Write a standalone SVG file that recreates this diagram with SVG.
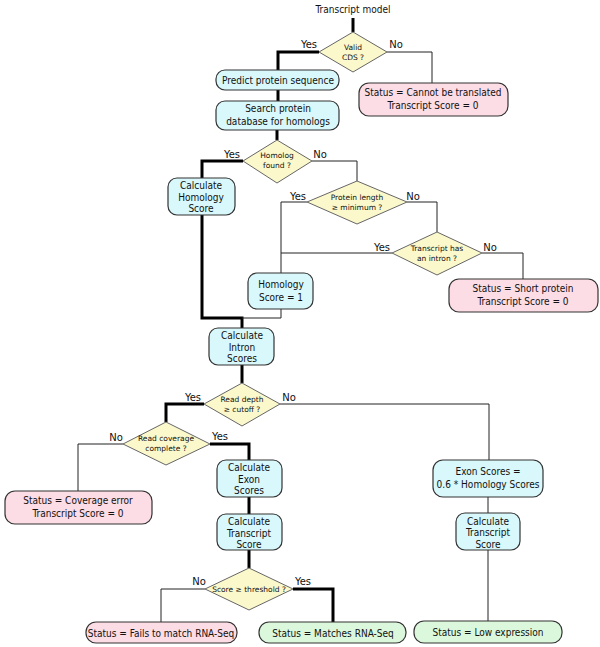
<svg xmlns="http://www.w3.org/2000/svg" width="600" height="647" viewBox="0 0 600 647">
<style>
text{font-family:"DejaVu Sans",Verdana,sans-serif;fill:#111;text-anchor:middle}
.bx{font-family:"DejaVu Sans Condensed","DejaVu Sans",sans-serif;font-size:10px}
.dt{font-size:7.5px}
.lb{font-size:10px}
.c{fill:#d8f8fb;stroke:#333;stroke-width:1.2}
.p{fill:#fcdce5;stroke:#333;stroke-width:1.2}
.g{fill:#dcf8dc;stroke:#333;stroke-width:1.2}
.d{fill:#fbf8cc;stroke:#666;stroke-width:1}
.tk{fill:none;stroke:#000;stroke-width:3}
.tn{fill:none;stroke:#222;stroke-width:1}
</style>
<rect width="600" height="647" fill="#fff"/>
<g id="connectors">
<path class="tk" d="M353,18V32"/>
<path class="tk" d="M319,52H278V70"/>
<path class="tn" d="M387,52H432V83"/>
<path class="tk" d="M278,90V101"/>
<path class="tk" d="M277,130V140"/>
<path class="tk" d="M243,161H202V178"/>
<path class="tn" d="M312,161H357V181"/>
<path class="tn" d="M307,202H281V273"/>
<path class="tn" d="M407,202H437V232"/>
<path class="tn" d="M392,253H281"/>
<path class="tn" d="M482,253H523V279"/>
<path class="tk" d="M202,215V318H242V328"/>
<path class="tn" d="M281,309V318H242"/>
<path class="tk" d="M242,365V383"/>
<path class="tk" d="M204,404H166V422"/>
<path class="tn" d="M280,404H489V460"/>
<path class="tn" d="M123,444H78V491"/>
<path class="tk" d="M210,444H249V460"/>
<path class="tk" d="M249,497V514"/>
<path class="tk" d="M249,550V568"/>
<path class="tn" d="M205,589H161V622"/>
<path class="tk" d="M293,589H333V622"/>
<path class="tn" d="M488,497V513"/>
<path class="tn" d="M488,550V621"/>
<text class="lb" x="309" y="48">Yes</text>
<text class="lb" x="396" y="48">No</text>
<text class="lb" x="232" y="158">Yes</text>
<text class="lb" x="320" y="158">No</text>
<text class="lb" x="298" y="200">Yes</text>
<text class="lb" x="413" y="200">No</text>
<text class="lb" x="382" y="251">Yes</text>
<text class="lb" x="490" y="251">No</text>
<text class="lb" x="193" y="401">Yes</text>
<text class="lb" x="289" y="401">No</text>
<text class="lb" x="116" y="441">No</text>
<text class="lb" x="220" y="440">Yes</text>
<text class="lb" x="199" y="585">No</text>
<text class="lb" x="303" y="585">Yes</text>
</g>
<g id="start"><text class="bx" x="353" y="13">Transcript model</text></g>
<g id="valid-cds"><polygon class="d" points="353,32 387,52 353,72 319,52"/><text class="dt" x="353" y="50">Valid</text><text class="dt" x="353" y="60">CDS ?</text></g>
<g id="predict"><rect class="c" x="216" y="70" width="123" height="20" rx="9"/><text class="bx" x="278" y="84">Predict protein sequence</text></g>
<g id="cannot"><rect class="p" x="359" y="83" width="149" height="33" rx="10"/><text class="bx" x="433" y="96">Status = Cannot be translated</text><text class="bx" x="433" y="109">Transcript Score = 0</text></g>
<g id="search"><rect class="c" x="216" y="101" width="123" height="29" rx="9"/><text class="bx" x="278" y="112">Search protein</text><text class="bx" x="278" y="125">database for homologs</text></g>
<g id="homolog-found"><polygon class="d" points="277,140 312,161 277,183 243,161"/><text class="dt" x="277" y="158">Homolog</text><text class="dt" x="277" y="168">found ?</text></g>
<g id="calc-homology"><rect class="c" x="168" y="178" width="67" height="37" rx="9"/><text class="bx" x="201" y="189">Calculate</text><text class="bx" x="201" y="200.5">Homology</text><text class="bx" x="201" y="212">Score</text></g>
<g id="protein-length"><polygon class="d" points="357,181 407,202 357,224 307,202"/><text class="dt" x="357" y="200">Protein length</text><text class="dt" x="357" y="210">≥ minimum ?</text></g>
<g id="has-intron"><polygon class="d" points="437,232 482,253 437,275 392,253"/><text class="dt" x="437" y="251">Transcript has</text><text class="dt" x="437" y="261">an intron ?</text></g>
<g id="homology-1"><rect class="c" x="248" y="273" width="65" height="36" rx="9"/><text class="bx" x="281" y="288">Homology</text><text class="bx" x="281" y="301">Score = 1</text></g>
<g id="short-protein"><rect class="p" x="449" y="279" width="149" height="33" rx="10"/><text class="bx" x="523" y="292">Status = Short protein</text><text class="bx" x="523" y="305">Transcript Score = 0</text></g>
<g id="intron-scores"><rect class="c" x="209" y="328" width="65" height="37" rx="9"/><text class="bx" x="242" y="339">Calculate</text><text class="bx" x="242" y="350.5">Intron</text><text class="bx" x="242" y="362">Scores</text></g>
<g id="read-depth"><polygon class="d" points="242,383 280,404 242,426 204,404"/><text class="dt" x="242" y="402">Read depth</text><text class="dt" x="242" y="412">≥ cutoff ?</text></g>
<g id="read-coverage"><polygon class="d" points="166,422 210,444 166,465 123,444"/><text class="dt" x="166" y="441">Read coverage</text><text class="dt" x="166" y="451">complete ?</text></g>
<g id="coverage-error"><rect class="p" x="5" y="491" width="147" height="33" rx="10"/><text class="bx" x="78" y="504">Status = Coverage error</text><text class="bx" x="78" y="517">Transcript Score = 0</text></g>
<g id="exon-scores"><rect class="c" x="217" y="460" width="65" height="37" rx="9"/><text class="bx" x="249" y="471">Calculate</text><text class="bx" x="249" y="482.5">Exon</text><text class="bx" x="249" y="494">Scores</text></g>
<g id="exon-06"><rect class="c" x="433" y="460" width="110" height="37" rx="10"/><text class="bx" x="488" y="475">Exon Scores =</text><text class="bx" x="488" y="488">0.6 * Homology Scores</text></g>
<g id="transcript-score-left"><rect class="c" x="217" y="514" width="65" height="36" rx="9"/><text class="bx" x="249" y="525">Calculate</text><text class="bx" x="249" y="536.5">Transcript</text><text class="bx" x="249" y="548">Score</text></g>
<g id="transcript-score-right"><rect class="c" x="456" y="513" width="64" height="37" rx="9"/><text class="bx" x="488" y="524.5">Calculate</text><text class="bx" x="488" y="536">Transcript</text><text class="bx" x="488" y="547.5">Score</text></g>
<g id="threshold"><polygon class="d" points="249,568 293,589 249,610 205,589"/><text class="dt" x="249" y="592">Score ≥ threshold ?</text></g>
<g id="fails"><rect class="p" x="86" y="622" width="151" height="21" rx="10"/><text class="bx" x="161" y="636.5">Status = Fails to match RNA-Seq</text></g>
<g id="matches"><rect class="g" x="259" y="622" width="147" height="21" rx="10"/><text class="bx" x="333" y="636.5">Status = Matches RNA-Seq</text></g>
<g id="low"><rect class="g" x="414" y="621" width="148" height="22" rx="10"/><text class="bx" x="488" y="636">Status = Low expression</text></g>
</svg>
